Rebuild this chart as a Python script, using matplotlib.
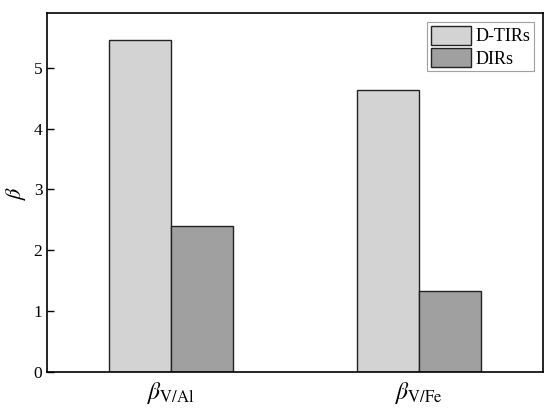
import numpy as np
import matplotlib
matplotlib.use('Agg')
import matplotlib.pyplot as plt

categories = [r'$\beta_{\mathrm{V/Al}}$', r'$\beta_{\mathrm{V/Fe}}$']
d_tirs = [5.46, 4.64]
dirs = [2.40, 1.33]
series_names = ['D-TIRs', 'DIRs']

plt.rcParams['font.family'] = 'Liberation Serif'
plt.rcParams['mathtext.fontset'] = 'stix'

fig, ax = plt.subplots(figsize=(5.5, 4.17), dpi=100)
fig.subplots_adjust(left=0.086, right=0.987, top=0.969, bottom=0.108)

x = np.arange(len(categories))
width = 0.25
ax.bar(x - width / 2, d_tirs, width, color='#d3d3d3', edgecolor='#222222', linewidth=1, label=series_names[0])
ax.bar(x + width / 2, dirs, width, color='#a0a0a0', edgecolor='#222222', linewidth=1, label=series_names[1])

ax.set_xlim(-0.5, 1.5)
ax.set_ylim(0, 5.9)
ax.set_xticks(x)
ax.set_xticklabels(categories, fontsize=17)
ax.tick_params(axis='x', length=0, pad=6)
ax.tick_params(axis='y', direction='in', length=5, width=1, labelsize=12.5)
ax.set_yticks([0, 1, 2, 3, 4, 5])
ax.set_ylabel(r'$\beta$', fontsize=16)

for s in ax.spines.values():
    s.set_linewidth(1.2)

leg = ax.legend(loc='upper right', fontsize=13, fancybox=False, edgecolor='#888888',
                handlelength=2.2, handleheight=1.25, borderaxespad=0.5, labelspacing=0.15,
                handletextpad=0.25, borderpad=0.2)
leg.get_frame().set_linewidth(0.8)

fig.savefig('out.png', dpi=100)
